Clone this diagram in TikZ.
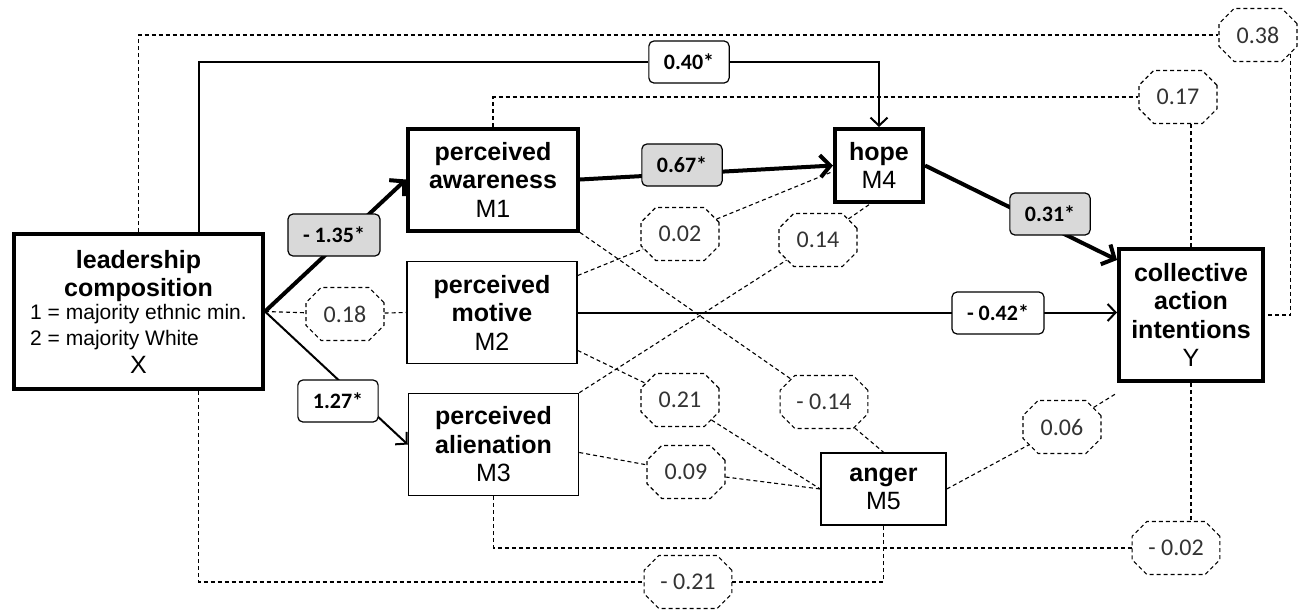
\documentclass[tikz,border=0pt]{standalone}
\usepackage{fontspec}
\setmainfont{Liberation Sans}
\newfontfamily\numfont{Carlito}
\usepackage{tikz}
\usetikzlibrary{arrows.meta,shapes.misc}
\newlength{\midWidth}
\setlength{\midWidth}{170pt}
\newlength{\midHeight}
\setlength{\midHeight}{102pt}
\tikzset{var/.style={shape=rectangle, draw, align=center, inner sep=0pt, line width=1.5pt, font=\fontsize{25}{28.5}\selectfont}}
\tikzset{var2/.style={var, line width=4pt}}
\tikzset{coef/.style={shape=rectangle, draw, rounded corners=5pt, fill=white, line width=1.2pt, minimum width=80pt, minimum height=42pt, inner xsep=15pt, font=\numfont\bfseries\fontsize{22}{24}\selectfont}}
\tikzset{coef2/.style={coef, fill=black!15}}
\tikzset{ns/.style={shape=chamfered rectangle, chamfered rectangle xsep=14pt, draw, dash pattern=on 4pt off 3pt, line width=1.1pt, minimum width=78pt, minimum height=53pt, inner xsep=5pt, text=black!80, font=\numfont\fontsize{24}{26}\selectfont}}
\tikzset{nsline/.style={line width=1.1pt, dash pattern=on 4pt off 3pt}}
\tikzset{path1/.style={line width=2pt, -{Straight Barb[length=8pt,width=17pt]}}}
\tikzset{path2/.style={line width=4pt, -{Straight Barb[length=10pt,width=22pt]}}}

\begin{document}
\begin{tikzpicture}[x=1pt, y=-1pt]
\useasboundingbox (0,0) rectangle (1304,611);
\begin{scope}[every node/.style={var2}]
    \node[minimum width=249pt, minimum height=155pt] (X) at (138.5,311.5) {\textbf{leadership}\\\textbf{composition}\\[-2pt]{\fontsize{21}{26}\selectfont\begin{tabular}{@{}l@{}}1 = majority ethnic min.\\2 = majority White\end{tabular}}\\[2pt]X};
    \node[minimum width=\midWidth, minimum height=\midHeight] (M1) at (493,179.5) {\textbf{perceived}\\\textbf{awareness}\\M1};
    \node[minimum width=88pt, minimum height=73pt] (M4) at (879,165.5) {\textbf{hope}\\M4};
    \node[minimum width=144pt, minimum height=132pt] (Y) at (1191,315) {\textbf{collective}\\\textbf{action}\\\textbf{intentions}\\Y};
\end{scope}
\begin{scope}[every node/.style={var}]
    \node[minimum width=\midWidth, minimum height=\midHeight] (M2) at (492,312.5) {\textbf{perceived}\\\textbf{motive}\\M2};
    \node[minimum width=\midWidth, minimum height=\midHeight] (M3) at (493.5,444.5) {\textbf{perceived}\\\textbf{alienation}\\M3};
    \node[minimum width=125pt, minimum height=72pt] (M5) at (883.5,489) {\textbf{anger}\\M5};
\end{scope}
\begin{scope}[every node/.style={ns}]
    \node (o38) at (1258,35) {0.38};
    \node (o17) at (1178,97) {0.17};
    \node (o02) at (680,234) {0.02};
    \node (o14) at (818,240) {0.14};
    \node (o18) at (345,314) {0.18};
    \node (o21) at (680,400) {0.21};
    \node (om14) at (824,402) {- 0.14};
    \node (o09) at (686,472) {0.09};
    \node (o06) at (1062,427) {0.06};
    \node (om02) at (1176,548) {- 0.02};
    \node (om21) at (688,582) {- 0.21};
\end{scope}
\node[coef] (l40) at (689,62) {0.40*};

\draw[path2] (X.east) -- (M1.west);
\draw[path1] (X.east) -- (M3.west);
\draw[path2] (M1.east) -- (M4.west);
\draw[path2] (M4.east) -- ([yshift=-13pt]Y.north west);
\draw[path1] (M2.east) -- (M2.east -| Y.west);
\draw[line width=2pt] ([xshift=60pt]X.north) |- (l40.west);
\draw[path1] (l40.east) -| (M4.north);

\begin{scope}[every path/.style={nsline}]
    \draw (X.east) -- (o18) (o18) -- (M2.west);
    \draw (X.north) |- (o38);
    \draw (o38.-30) |- (Y.east);
    \draw (M1.north) |- (o17);
    \draw (Y.north) -- (Y.north |- o17.south);
    \draw ([yshift=37pt]M2.east) -- (o02) (o02) -- ([yshift=-6pt]M4.west);
    \draw (M3.north east) -- (o14) (o14) -- ([xshift=-9pt]M4.south);
    \draw (M1.south east) -- (om14) (om14) -- (M5.north);
    \draw ([yshift=-38pt]M2.east) -- (o21) (o21) -- (M5.west);
    \draw ([yshift=-8pt]M3.east) -- (o09) (o09) -- (M5.west);
    \draw (M5.east) -- (o06) (o06) -- ([yshift=-10pt]Y.south west);
    \draw ([xshift=60pt]X.south) |- (om21);
    \draw (om21) -| (M5.south);
    \draw (M3.south) |- (om02);
    \draw (Y.south) -- (Y.south |- om02.north);
\end{scope}

\node[coef2] (l135) at (334,235) {- 1.35*};
\node[coef] (l127) at (338,401) {1.27*};
\node[coef2] (l67) at (682,165) {0.67*};
\node[coef2] (l31) at (1050,214) {0.31*};
\node[coef] (l42) at (998,313) {- 0.42*};
\end{tikzpicture}
\end{document}
